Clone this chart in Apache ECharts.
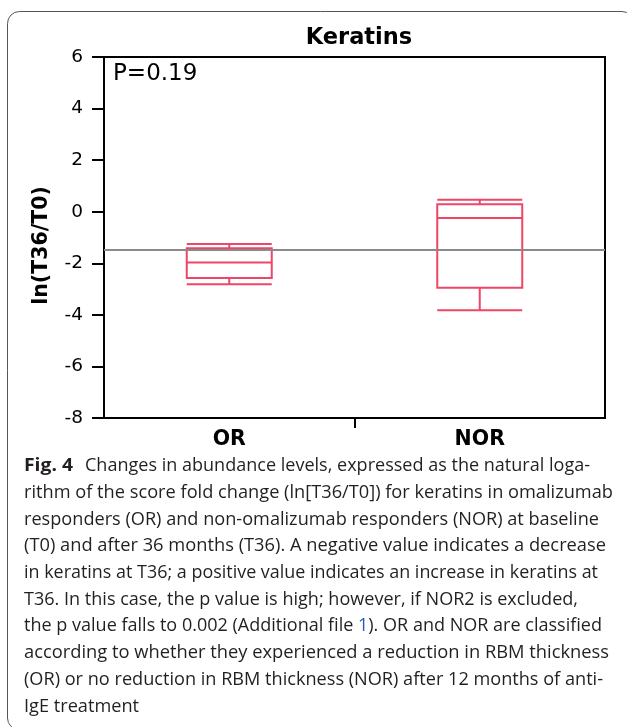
<!DOCTYPE html>
<html>
<head>
<meta charset="utf-8">
<script src="https://cdn.jsdelivr.net/npm/echarts@6/dist/echarts.min.js"></script>
<style>
html,body{margin:0;padding:0;background:#fff;}
#chart{width:627px;height:727px;}
</style>
</head>
<body>
<div id="chart"></div>
<script>
// ---- data ----
const categories = ['OR', 'NOR'];
// [min, Q1, median, Q3, max]
const orStats = [-2.81, -2.57, -1.97, -1.42, -1.25];
const norStats = [-3.82, -2.95, -0.24, 0.29, 0.46];
const referenceLine = -1.48;
const yMin = -8, yMax = 6, yInterval = 2;
const chartTitle = 'Keratins';
const yAxisName = 'ln(T36/T0)';
const pText = 'P=0.19';
const captionLabel = 'Fig. 4';
const captionLines = [
  'Changes in abundance levels, expressed as the natural loga-',
  'rithm of the score fold change (ln[T36/T0]) for keratins in omalizumab',
  'responders (OR) and non-omalizumab responders (NOR) at baseline',
  '(T0) and after 36 months (T36). A negative value indicates a decrease',
  'in keratins at T36; a positive value indicates an increase in keratins at',
  'T36. In this case, the p value is high; however, if NOR2 is excluded,',
  ['the p value falls to 0.002 (Additional file ', '1', '). OR and NOR are classified'],
  'according to whether they experienced a reduction in RBM thickness',
  '(OR) or no reduction in RBM thickness (NOR) after 12 months of anti-',
  'IgE treatment'
];

// ---- layout ----
const capFont = '"Open Sans", "Noto Sans", sans-serif';
const capSize = 18.6;
const lineLeft = [85, 24, 24, 24, 24, 24, 24, 24, 24, 24];
const lineRight = [590, 613, 599, 606, 598, 578, 602, 609, 603, 139];
const lineY0 = 466, lineStep = 26.7;

const cv = document.createElement('canvas').getContext('2d');
cv.font = capSize + 'px ' + capFont;
function w(t){ return cv.measureText(t).width; }

const graphics = [];
graphics.push({
  type: 'rect', silent: true,
  shape: {x: 7.5, y: 11.5, width: 626.5, height: 718.5, r: 12},
  style: {fill: 'none', stroke: '#555', lineWidth: 1}
});
graphics.push({
  type: 'text', x: 113, y: 74,
  style: {text: pText, font: '23px "DejaVu Sans"', fill: '#000', verticalAlign: 'middle', align: 'left'}
});
// "Fig. 4" bold
cv.font = 'bold ' + capSize + 'px ' + capFont;
const figW = cv.measureText(captionLabel).width;
cv.font = capSize + 'px ' + capFont;
graphics.push({
  type: 'text', x: 24, y: lineY0, scaleX: (73 - 24) / figW,
  style: {text: captionLabel, font: 'bold ' + capSize + 'px ' + capFont, fill: '#231f20', verticalAlign: 'middle', align: 'left'}
});
captionLines.forEach(function(line, i){
  const y = lineY0 + i * lineStep;
  const full = Array.isArray(line) ? line.join('') : line;
  const s = (lineRight[i] - lineLeft[i]) / w(full);
  if (Array.isArray(line)) {
    graphics.push({
      type: 'text', x: lineLeft[i], y: y, scaleX: s,
      style: {
        text: '{a|' + line[0] + '}{b|' + line[1] + '}{a|' + line[2] + '}',
        verticalAlign: 'middle', align: 'left',
        rich: {
          a: {font: capSize + 'px ' + capFont, fill: '#231f20'},
          b: {font: capSize + 'px ' + capFont, fill: '#2a5db0'}
        }
      }
    });
  } else {
    graphics.push({
      type: 'text', x: lineLeft[i], y: y, scaleX: s,
      style: {text: line, font: capSize + 'px ' + capFont, fill: '#231f20', verticalAlign: 'middle', align: 'left'}
    });
  }
});

const chart = echarts.init(document.getElementById('chart'), null, {renderer: 'canvas'});
chart.setOption({
  backgroundColor: '#fff',
  animation: false,
  title: {
    text: chartTitle, left: 354, top: 22, textAlign: 'center',
    textStyle: {fontFamily: 'DejaVu Sans', fontWeight: 'bold', fontSize: 22.5, color: '#000'}
  },
  grid: {
    left: 104, right: 22, top: 57, bottom: 309,
    show: true, borderColor: '#000', borderWidth: 2, backgroundColor: 'transparent'
  },
  xAxis: [{
    type: 'category', data: categories, boundaryGap: true,
    axisLine: {show: true, onZero: false, lineStyle: {color: '#000', width: 2}},
    axisTick: {show: false},
    axisLabel: {fontFamily: 'DejaVu Sans', fontWeight: 'bold', fontSize: 20.5, color: '#000', margin: 11},
    splitLine: {show: false}
  }, {
    type: 'value', min: 0, max: 2, interval: 1, position: 'bottom',
    axisLine: {show: false, onZero: false},
    axisLabel: {show: false},
    splitLine: {show: false},
    axisTick: {show: true, length: 10, inside: false, lineStyle: {color: '#000', width: 2}, customValues: [1]}
  }],
  yAxis: {
    type: 'value', min: yMin, max: yMax, interval: yInterval,
    name: yAxisName, nameLocation: 'middle', nameGap: 52,
    nameTextStyle: {fontFamily: 'DejaVu Sans', fontWeight: 'bold', fontSize: 20.5, color: '#000', padding: [0, 16, 0, 0]},
    axisLine: {show: true, onZero: false, lineStyle: {color: '#000', width: 2}},
    axisTick: {show: true, length: 12, inside: false, lineStyle: {color: '#000', width: 2}},
    axisLabel: {fontFamily: 'DejaVu Sans', fontSize: 18.5, color: '#000', margin: 21},
    splitLine: {show: false}
  },
  series: [{
    type: 'boxplot',
    xAxisIndex: 0,
    data: [orStats, norStats],
    boxWidth: [85, 85],
    itemStyle: {color: 'transparent', borderColor: '#ef4566', borderWidth: 2},
    emphasis: {disabled: true},
    markLine: {
      silent: true, symbol: 'none',
      label: {show: false},
      lineStyle: {color: '#8a8a8a', width: 2, type: 'solid'},
      data: [{yAxis: referenceLine}]
    }
  }],
  graphic: graphics
});
</script>
</body>
</html>
